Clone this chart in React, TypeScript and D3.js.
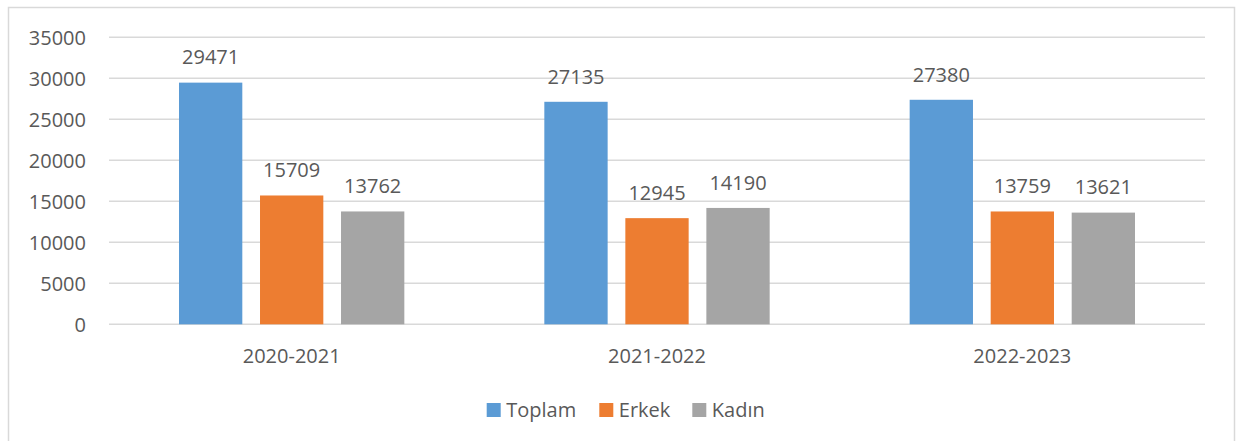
import React from 'react'
import * as d3 from 'd3'

const years = ['2020-2021', '2021-2022', '2022-2023']
const seriesNames = ['Toplam', 'Erkek', 'Kadın']
const toplam = [29471, 27135, 27380]
const erkek = [15709, 12945, 13759]
const kadin = [13762, 14190, 13621]
const yTicks = [0, 5000, 10000, 15000, 20000, 25000, 30000, 35000]
const seriesColors = ['#5b9bd5', '#ed7d31', '#a5a5a5']

const W = 1241
const H = 441
const font = '"Open Sans", "DejaVu Sans", sans-serif'
const textColor = '#595959'

export default function App() {
  const series = [toplam, erkek, kadin]
  // plot area, roughly what excel gave
  const left = 109, right = 1205, top = 37.3, bottom = 324.3

  const y = d3.scaleLinear().domain([0, 35000]).range([bottom, top])
  const x0 = d3.scaleBand().domain(years).range([left, right])
  const x1 = d3.scaleBand().domain(seriesNames).range([0, x0.bandwidth()])
    .paddingInner(0.2185).paddingOuter(0.864)

  return (
    <svg width={W} height={H} style={{ position: 'absolute', left: 0, top: 0 }}>
      <rect x={0} y={0} width={W} height={H} fill="#fff" />
      <rect x={8.5} y={7.5} width={1226} height={450} fill="#fff" stroke="#d9d9d9" strokeWidth={1.5} />
      {yTicks.map(t => (
        <g key={t}>
          <line x1={left} x2={right} y1={y(t)} y2={y(t)} stroke="#d9d9d9" strokeWidth={1.5} />
          <text x={86} y={y(t) + 7.5} textAnchor="end" fontFamily={font} fontSize={20} fill={textColor}>{t}</text>
        </g>
      ))}
      {years.map((yr, i) => (
        <g key={yr} transform={`translate(${x0(yr)},0)`}>
          {seriesNames.map((s, j) => {
            const v = series[j][i]
            const bx = x1(s) as number
            return (
              <g key={s}>
                <rect x={bx} y={y(v)} width={x1.bandwidth()} height={bottom - y(v)} fill={seriesColors[j]} />
                <text x={bx + x1.bandwidth() / 2} y={y(v) - 18.2} textAnchor="middle" fontFamily={font} fontSize={20} fill={textColor}>{v}</text>
              </g>
            )
          })}
          <text x={x0.bandwidth() / 2} y={363} textAnchor="middle" fontFamily={font} fontSize={20} fill={textColor}>{yr}</text>
        </g>
      ))}
      {seriesNames.map((s, j) => {
        const lx = [486.7, 599.3, 692.3][j]
        return (
          <g key={s}>
            <rect x={lx} y={403} width={14} height={14} fill={seriesColors[j]} />
            <text x={lx + 19.5} y={416.5} fontFamily={font} fontSize={20} fill={textColor}>{s}</text>
          </g>
        )
      })}
    </svg>
  )
}
